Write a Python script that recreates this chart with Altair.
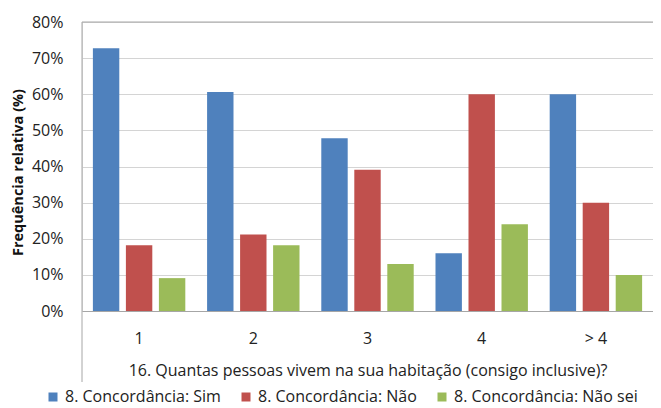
import altair as alt
import pandas as pd

categories = ["1", "2", "3", "4", "> 4"]
series = ["8. Concordância: Sim", "8. Concordância: Não", "8. Concordância: Não sei"]
sim = [72.7, 60.6, 47.8, 16.0, 60.0]
nao = [18.2, 21.2, 39.1, 60.0, 30.0]
nao_sei = [9.1, 18.2, 13.0, 24.0, 10.0]
colors = ["#4F81BD", "#C0504D", "#9BBB59"]

rows = []
for s, vals in zip(series, [sim, nao, nao_sei]):
    for c, v in zip(categories, vals):
        rows.append({"cat": c, "serie": s, "val": v / 100.0})
df = pd.DataFrame(rows)

W, H = 571, 289
FONT = "Open Sans"

bars = alt.Chart(df).mark_bar().encode(
    x=alt.X("cat:N", sort=categories,
            scale=alt.Scale(paddingInner=0, paddingOuter=0),
            axis=alt.Axis(title="16. Quantas pessoas vivem na sua habitação (consigo inclusive)?",
                          labelAngle=0, ticks=False, labelPadding=19,
                          labelFontSize=16, labelFont=FONT, labelColor="#222",
                          domain=True, domainColor="#A6A6A6", grid=False,
                          titleFont=FONT, titleFontSize=16, titleFontWeight="normal",
                          titleColor="#222", titleY=59, titleBaseline="middle")),
    xOffset=alt.XOffset("serie:N", sort=series,
                        scale=alt.Scale(paddingInner=0.2, paddingOuter=0.33)),
    y=alt.Y("val:Q", scale=alt.Scale(domain=[0, 0.8], nice=False),
            axis=alt.Axis(title="Frequência relativa (%)", format=".0%",
                          values=[0, 0.1, 0.2, 0.3, 0.4, 0.5, 0.6, 0.7, 0.8],
                          ticks=False, domain=False, labelPadding=19,
                          labelFontSize=16, labelFont=FONT, labelColor="#222",
                          grid=True, gridColor="#D4D4D4",
                          titleFont=FONT, titleFontSize=14.5, titleFontWeight="bold",
                          titleColor="#111", titleX=-64, titleY=150,
                          titleAngle=270, titleAlign="center", titleBaseline="middle")),
    color=alt.Color("serie:N", sort=series,
                    scale=alt.Scale(domain=series, range=colors),
                    legend=alt.Legend(title=None, orient="none", legendX=-37, legendY=367,
                                      direction="horizontal", columns=3,
                                      symbolType="square", symbolSize=81,
                                      symbolStrokeWidth=0,
                                      labelFont=FONT, labelFontSize=16, labelColor="#222",
                                      labelLimit=400, columnPadding=17, labelOffset=4)),
)

one = pd.DataFrame({"a": [0]})
left_line = alt.Chart(one).mark_rule(color="#A6A6A6", strokeWidth=1).encode(
    x=alt.value(0), y=alt.value(0), y2=alt.value(360))
top_line = alt.Chart(one).mark_rule(color="#A6A6A6", strokeWidth=1).encode(
    y=alt.value(0), x=alt.value(0), x2=alt.value(W))

chart = alt.layer(bars, left_line, top_line).properties(
    width=W, height=H,
    autosize=alt.AutoSizeParams(type="none"),
    padding={"left": 74, "top": 14, "right": 0, "bottom": 97},
).configure_view(stroke=None).configure(background="white")

chart.save("out.html", embed_options={"renderer": "svg", "actions": False})
